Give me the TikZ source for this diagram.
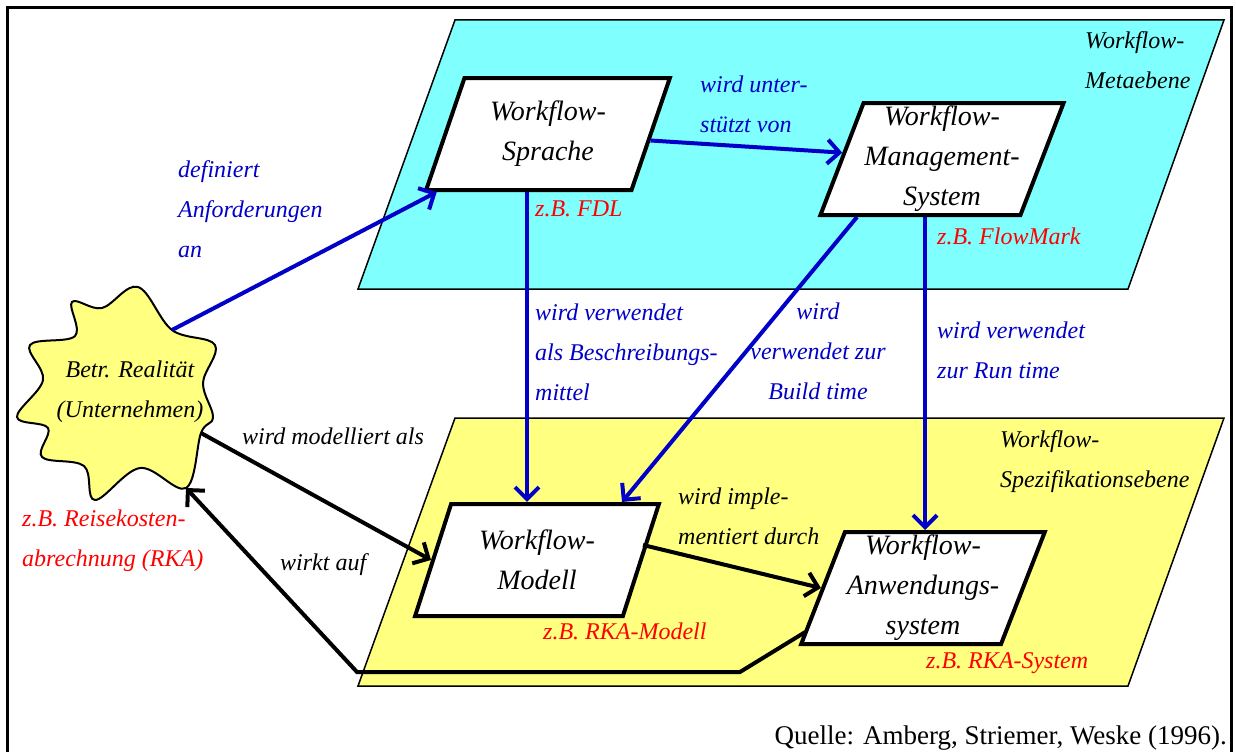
\documentclass[tikz,border=0pt]{standalone}
\usepackage{fontspec}
\setmainfont{Liberation Serif}
\usetikzlibrary{positioning,shapes.geometric,arrows.meta}
\definecolor{metacyan}{RGB}{128,255,255}
\definecolor{specgelb}{RGB}{255,255,128}
\definecolor{pfeilblau}{RGB}{0,0,200}
\definecolor{bsprot}{RGB}{255,0,0}

\begin{document}
\begin{tikzpicture}[x=1pt,y=-1pt,
  every node/.style={font=\fontsize{24}{40}\selectfont\itshape},
  wfbox/.style={draw, line width=4pt, fill=white, shape=trapezium,
    trapezium left angle=68, trapezium right angle=112, trapezium stretches=true,
    minimum width=244pt, minimum height=112pt, align=center, inner sep=0pt,
    font=\fontsize{28}{40}\selectfont\itshape},
  ebene/.style={draw, line width=1.5pt},
  blaupfeil/.style={draw=pfeilblau, line width=4pt, -{Straight Barb[length=12pt,width=24pt]}},
  schwarzpfeil/.style={draw=black, line width=4pt, line join=miter, -{Straight Barb[length=12pt,width=24pt]}},
  blautext/.style={text=pfeilblau, anchor=north west, align=left, inner sep=0pt},
  schwarztext/.style={text=black, anchor=north west, align=left, inner sep=0pt},
  rottext/.style={text=bsprot, anchor=north west, align=left, inner sep=0pt}]
\useasboundingbox (0,0) rectangle (1236,752);
\draw[line width=3pt] (7,752) -- (7,8) -- (1231,8) -- (1231,752);

\draw[ebene, fill=metacyan] (455,20) -- (1224,20) -- (1128,289) -- (358,289) -- cycle;
\draw[ebene, fill=specgelb] (455,418) -- (1224,418) -- (1128,686) -- (358,686) -- cycle;

\draw[line width=2pt, fill=specgelb] plot[smooth cycle, tension=0.6] coordinates {
  (138,287) (172,330) (215,345) (203,383) (213,417) (201,433) (186,488) (140,468)
  (95,500) (84,466) (42,457) (48,428) (17,417) (43,380) (30,345) (75,336) (72,302) (102,308)};
\coordinate (starNO) at (172,330);
\coordinate (starO) at (201,433);
\coordinate (starS) at (186,488);
\node[align=center] (Realitaet) at (130,392) {Betr. Realität\\(Unternehmen)};

\node[wfbox] (Sprache) at (548,134) {Workflow-\\Sprache};
\node[wfbox] (Mgmt) at (942,159) {Workflow-\\Management-\\System};
\node[wfbox] (Modell) at (537,560) {Workflow-\\Modell};
\node[wfbox] (Anw) at (923,588) {Workflow-\\Anwendungs-\\system};

\draw[blaupfeil] (starNO) -- (Sprache);
\draw[blaupfeil] (Sprache) -- (Mgmt);
\draw[blaupfeil] (Sprache.south -| 527,0) -- (Modell.north -| 527,0);
\draw[blaupfeil] (Mgmt.south -| 857,0) -- (Modell.north -| 622,0);
\draw[blaupfeil] (Mgmt.south -| 925,0) -- (Anw.north -| 925,0);
\draw[schwarzpfeil] (starO) -- (Modell.west);
\draw[schwarzpfeil] ([yshift=15pt]Modell.east) -- (Anw.west);
\coordinate (knickA) at (740,672);
\coordinate (knickB) at (357,672);
\draw[schwarzpfeil] ([shift={(7,-14)}]Anw.bottom left corner) -- (knickA) -- (knickB) -- (starS);

\node[blautext] (lblDefiniert) at (178,160) {definiert\\Anforderungen\\an};
\node[blautext] (lblUnterstuetzt) at (700,76) {wird unter-\\stützt von};
\node[blautext] (lblBeschreibung) at (535,304) {wird verwendet\\als Beschreibungs-\\mittel};
\node[blautext, anchor=north, align=center] (lblBuild) at (818,303) {wird\\verwendet zur\\Build time};
\node[blautext] (lblRun) at (937,322) {wird verwendet\\zur Run time};
\node[schwarztext] (lblModelliert) at (242,428) {wird modelliert als};
\node[schwarztext] (lblImpl) at (678,488) {wird imple-\\mentiert durch};
\node[schwarztext] (lblWirkt) at (280,553) {wirkt auf};

\node[rottext] (bspFDL) at (535,201) {z.B. FDL};
\node[rottext] (bspFlowMark) at (937,228) {z.B. FlowMark};
\node[rottext] (bspModell) at (543,623) {z.B. RKA-Modell};
\node[rottext] (bspSystem) at (926,652) {z.B. RKA-System};
\node[rottext] (bspRKA) at (22,510) {z.B. Reisekosten-\\abrechnung (RKA)};

\node[schwarztext] (ebeneMeta) at (1085,31) {Workflow-\\Metaebene};
\node[schwarztext] (ebeneSpez) at (1000,430) {Workflow-\\Spezifikationsebene};

\node[anchor=base east, inner sep=0pt, font=\fontsize{27}{32}\selectfont] (quelle) at (1227,744) {Quelle: Amberg, Striemer, Weske (1996).};
\end{tikzpicture}
\end{document}
